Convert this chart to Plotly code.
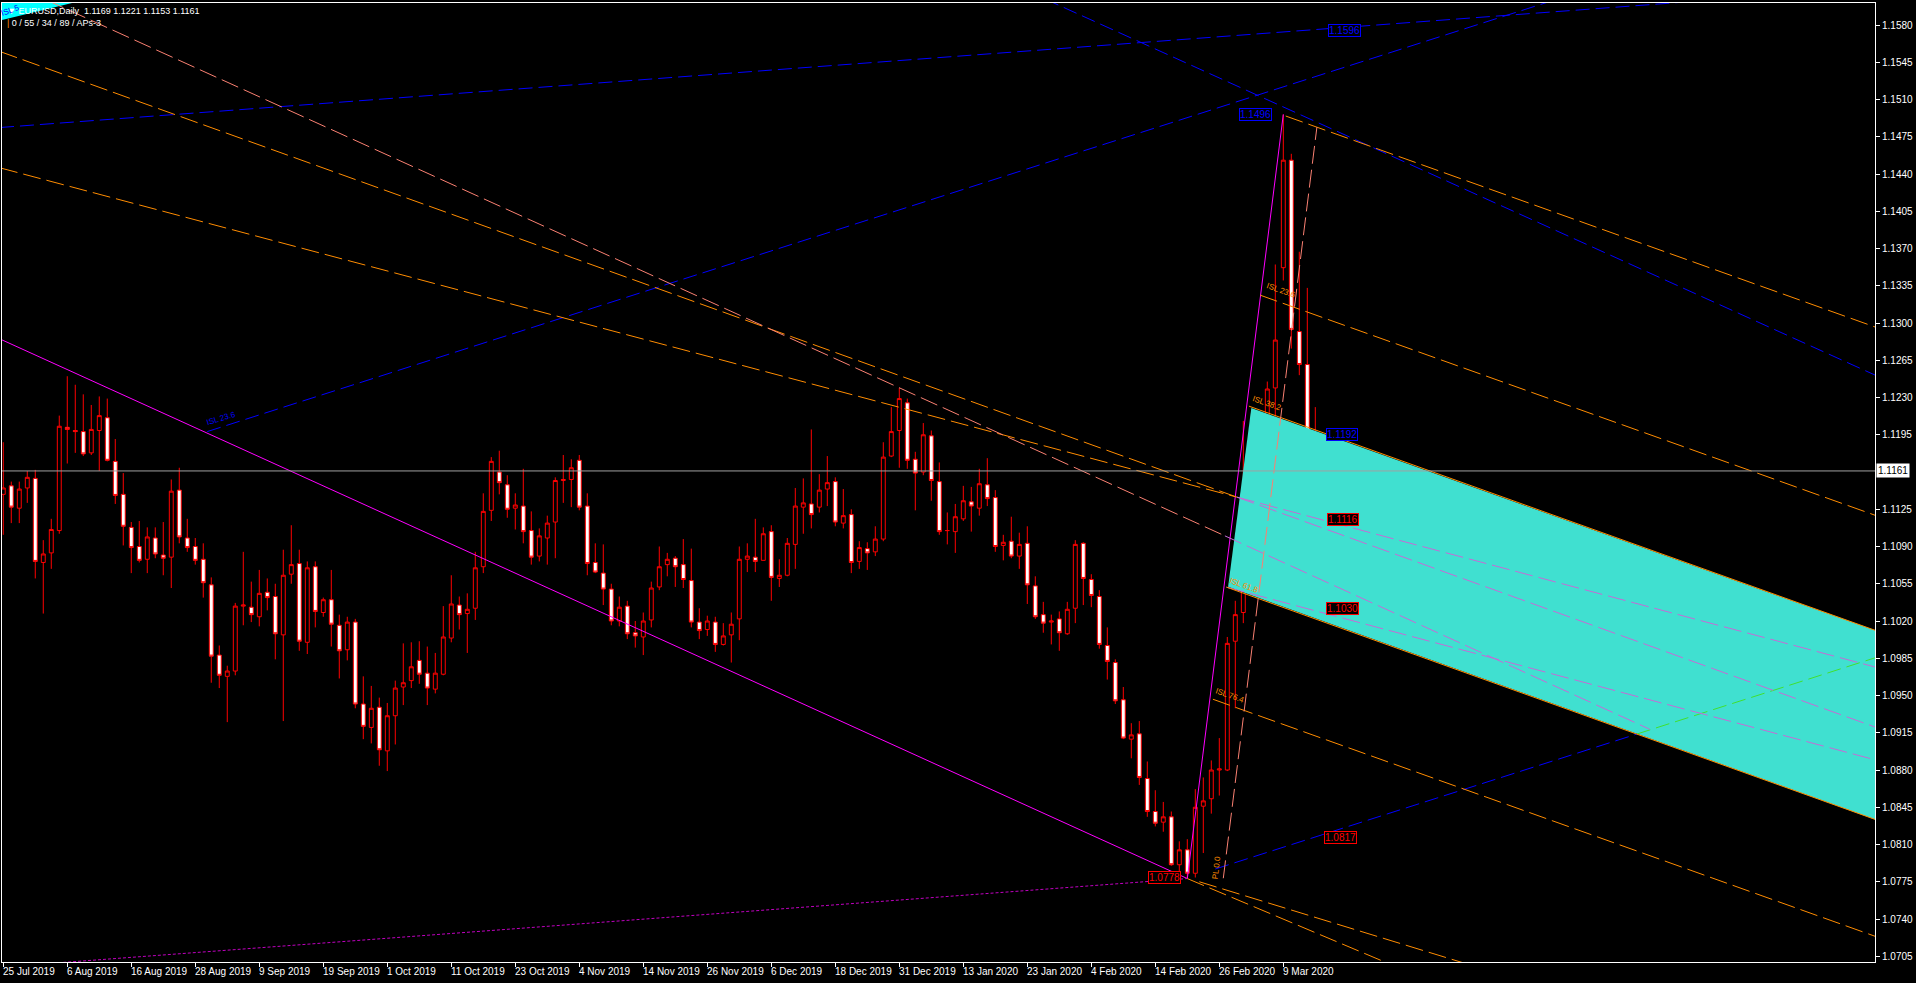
import plotly.graph_objects as go

# ---------------- data ----------------
opens = [1.1139,1.1147,1.1126,1.1145,1.1154,1.1075,1.1084,1.1105,1.1202,1.1199,
 1.1198,1.1178,1.1199,1.1211,1.1170,1.1139,1.1108,1.1090,1.1078,1.1098,
 1.1082,1.1080,1.1143,1.1098,1.1090,1.1078,1.1054,1.0988,1.0968,1.0973,
 1.1034,1.1033,1.1024,1.1047,1.1043,1.1007,1.1064,1.1074,1.1000,1.1071,
 1.1028,1.1040,1.1016,1.0993,1.1019,1.0942,1.0920,1.0939,1.0898,1.0931,
 1.0958,1.0964,1.0983,1.0971,1.0956,1.0970,1.1004,1.1035,1.1027,1.1032,
 1.1071,1.1124,1.1160,1.1148,1.1126,1.1128,1.1105,1.1081,1.1098,1.1113,
 1.1152,1.1153,1.1171,1.1128,1.1075,1.1065,1.1050,1.1020,1.1034,1.1009,
 1.1005,1.1021,1.1052,1.1073,1.1079,1.1073,1.1058,1.1019,1.1012,1.1019,
 1.0998,1.1007,1.1022,1.1078,1.1080,1.1077,1.1104,1.1060,1.1063,1.1092,
 1.1127,1.1130,1.1127,1.1144,1.1151,1.1112,1.1120,1.1076,1.1088,1.1085,
 1.1097,1.1175,1.1199,1.1225,1.1172,1.1160,1.1194,1.1151,1.1105,1.1104,
 1.1116,1.1132,1.1126,1.1148,1.1136,1.1091,1.1095,1.1081,1.1093,1.1053,
 1.1026,1.1019,1.1022,1.1008,1.1032,1.1093,1.1059,1.1043,1.0997,1.0981,
 1.0946,1.0909,1.0914,1.0872,1.0841,1.0831,1.0836,1.0791,1.0805,1.0783,
 1.0846,1.0853,1.0880,1.0880,1.1001,1.1028,1.1132,1.1171,1.1135,1.1239,
 1.1352,1.1453,1.1292,1.1261,1.1169]
highs = [1.1188,1.1151,1.1151,1.1161,1.1162,1.1096,1.1116,1.1213,1.1250,1.1242,
 1.1233,1.1223,1.1231,1.1229,1.1191,1.1159,1.1113,1.1114,1.1108,1.1108,
 1.1113,1.1153,1.1164,1.1116,1.1098,1.1093,1.1061,1.0997,1.0978,1.1037,
 1.1085,1.1057,1.1068,1.1060,1.1055,1.1087,1.1110,1.1087,1.1076,1.1076,
 1.1042,1.1068,1.1026,1.1024,1.1022,1.0968,1.0959,1.0948,1.0943,1.0964,
 1.0999,1.1000,1.1001,1.0996,1.0990,1.1034,1.1063,1.1043,1.1046,1.1085,
 1.1140,1.1174,1.1180,1.1157,1.1140,1.1163,1.1123,1.1107,1.1119,1.1155,
 1.1176,1.1172,1.1176,1.1140,1.1093,1.1092,1.1055,1.1043,1.1039,1.1020,
 1.1028,1.1057,1.1090,1.1084,1.1081,1.1097,1.1088,1.1032,1.1025,1.1024,
 1.1018,1.1028,1.1090,1.1093,1.1116,1.1108,1.1110,1.1078,1.1098,1.1145,
 1.1154,1.1200,1.1158,1.1175,1.1155,1.1144,1.1125,1.1095,1.1094,1.1109,
 1.1188,1.1221,1.1239,1.1229,1.1179,1.1206,1.1199,1.1169,1.1122,1.1130,
 1.1147,1.1146,1.1163,1.1173,1.1143,1.1101,1.1118,1.1103,1.1109,1.1062,
 1.1038,1.1026,1.1029,1.1038,1.1096,1.1094,1.1064,1.1049,1.1014,1.0984,
 1.0958,1.0924,1.0926,1.0888,1.0861,1.0850,1.0841,1.0813,1.0815,1.0862,
 1.0873,1.0889,1.0910,1.1005,1.1039,1.1208,1.1213,1.1188,1.1245,1.1355,
 1.1496,1.1459,1.1367,1.1333,1.1221]
lows = [1.1101,1.1112,1.1112,1.1131,1.1060,1.1027,1.1069,1.1102,1.1168,1.1178,
 1.1175,1.1176,1.1161,1.1170,1.1130,1.1091,1.1065,1.1075,1.1065,1.1079,
 1.1063,1.1051,1.1093,1.1085,1.1073,1.1042,1.0962,1.0957,1.0925,1.0969,
 1.1016,1.1019,1.1015,1.1030,1.0984,1.0926,1.1055,1.0992,1.0989,1.1014,
 1.1024,1.0996,1.0966,1.0983,1.0938,1.0909,1.0905,1.0884,1.0879,1.0904,
 1.0941,1.0957,1.0961,1.0941,1.0952,1.0969,1.1000,1.1012,1.0990,1.1021,
 1.1065,1.1114,1.1139,1.1117,1.1106,1.1093,1.1073,1.1076,1.1073,1.1079,
 1.1131,1.1127,1.1124,1.1063,1.1065,1.1035,1.1016,1.1015,1.1003,1.0995,
 1.0988,1.1014,1.1049,1.1062,1.1052,1.1051,1.1014,1.1003,1.1006,1.0991,
 1.0997,1.0981,1.1002,1.1066,1.1066,1.1077,1.1039,1.1052,1.1062,1.1069,
 1.1102,1.1107,1.1122,1.1128,1.1109,1.1107,1.1065,1.1069,1.1068,1.1081,
 1.1095,1.1174,1.1164,1.1163,1.1124,1.1157,1.1133,1.1101,1.1092,1.1084,
 1.1114,1.1104,1.1119,1.1128,1.1085,1.1077,1.1079,1.1069,1.1036,1.1022,
 1.1009,1.0998,1.0992,1.1007,1.1018,1.1035,1.1033,1.0994,1.0965,1.0942,
 1.0909,1.0891,1.0866,1.0836,1.0827,1.0822,1.0790,1.0785,1.0778,1.0779,
 1.0802,1.0839,1.0856,1.0879,1.0938,1.1018,1.1094,1.1096,1.1120,1.1212,
 1.1340,1.1276,1.1251,1.1054,1.1153]
closes = [1.1145,1.1127,1.1144,1.1155,1.1076,1.1083,1.1106,1.1203,1.1200,1.1198,
 1.1177,1.1200,1.1213,1.1171,1.1138,1.1109,1.1089,1.1077,1.1099,1.1083,
 1.1079,1.1142,1.1099,1.1089,1.1077,1.1056,1.0987,1.0969,1.0973,1.1034,
 1.1035,1.1026,1.1046,1.1042,1.1008,1.1063,1.1073,1.1001,1.1070,1.1029,
 1.1040,1.1017,1.0992,1.1019,1.0942,1.0921,1.0938,1.0899,1.0931,1.0957,
 1.0962,1.0977,1.0970,1.0957,1.0971,1.1005,1.1036,1.1026,1.1031,1.1070,
 1.1123,1.1170,1.1150,1.1125,1.1129,1.1104,1.1080,1.1100,1.1112,1.1152,
 1.1153,1.1164,1.1127,1.1074,1.1066,1.1050,1.1020,1.1033,1.1008,1.1006,
 1.1020,1.1051,1.1071,1.1078,1.1071,1.1059,1.1019,1.1011,1.1020,1.0998,
 1.1006,1.1017,1.1078,1.1081,1.1076,1.1102,1.1061,1.1063,1.1093,1.1128,
 1.1131,1.1120,1.1143,1.1150,1.1113,1.1119,1.1075,1.1089,1.1084,1.1097,
 1.1174,1.1198,1.1229,1.1171,1.1159,1.1195,1.1152,1.1104,1.1105,1.1118,
 1.1133,1.1128,1.1149,1.1135,1.1090,1.1094,1.1081,1.1092,1.1054,1.1024,
 1.1018,1.1020,1.1009,1.1031,1.1092,1.1060,1.1044,1.0998,1.0982,1.0945,
 1.0910,1.0913,1.0873,1.0841,1.0830,1.0836,1.0791,1.0805,1.0783,1.0845,
 1.0851,1.0880,1.0881,1.0999,1.1026,1.1133,1.1170,1.1133,1.1238,1.1284,
 1.1453,1.1294,1.1261,1.1169,1.1161]
bars = list(range(len(opens)))

date_labels = ["25 Jul 2019","6 Aug 2019","16 Aug 2019","28 Aug 2019","9 Sep 2019",
 "19 Sep 2019","1 Oct 2019","11 Oct 2019","23 Oct 2019","4 Nov 2019","14 Nov 2019",
 "26 Nov 2019","6 Dec 2019","18 Dec 2019","31 Dec 2019","13 Jan 2020","23 Jan 2020",
 "4 Feb 2020","14 Feb 2020","26 Feb 2020","9 Mar 2020"]
date_bars = [0,8,16,24,32,40,48,56,64,72,80,88,96,104,112,120,128,136,144,152,160]
price_ticks = [1.0705,1.0740,1.0775,1.0810,1.0845,1.0880,1.0915,1.0950,1.0985,1.1020,
 1.1055,1.1090,1.1125,1.1195,1.1230,1.1265,1.1300,1.1335,1.1370,1.1405,
 1.1440,1.1475,1.1510,1.1545,1.1580]
bid_price = 1.1161
header_line1 = "EURUSD,Daily  1.1169 1.1221 1.1153 1.1161"
header_line2 = "0 / 55 / 34 / 89 / APs-3"
x_range = [-0.16, 233.96]
y_range = [1.06996, 1.16007]

# drawing objects: (bars, prices)
magenta_trend = ([-0.41, 148], [1.1285, 1.0778])
magenta_handle = ([148, 160], [1.0778, 1.1496])
magenta_dotted = ([0, 148], [1.0695, 1.0778])
blue_b1 = ([-0.41, 233.96], [1.14837, 1.16149])
blue_b2 = ([25.5, 233.96], [1.1198, 1.1700])
blue_b3 = ([128, 233.96], [1.1612, 1.12511])
blue_b4 = ([151.5, 204.2], [1.0787, 1.09138])
green_b4 = ([204.2, 233.96], [1.09138, 1.09854])
orange_la = ([-0.41, 154.2], [1.15551, 1.11364])
orange_lb = ([-0.41, 154.2], [1.14458, 1.11364])
pink_la = ([154.2, 233.96], [1.11364, 1.09204])
pink_lb = ([154.2, 233.96], [1.11364, 1.09768])
salmon_lc = ([0, 152.7], [1.1622, 1.1100])
pink_lc = ([152.7, 205.8], [1.1100, 1.09183])
pink_p3 = ([152.9, 233.96], [1.10518, 1.08896])
fork_r1 = ([160.3, 233.96], [1.14945, 1.12963])
fork_r2 = ([157.1, 233.96], [1.13262, 1.11194])
fork_r3 = ([155.7, 233.96], [1.12219, 1.10113])
fork_r4 = ([152.9, 233.96], [1.10518, 1.08336])
fork_r5 = ([151.2, 233.96], [1.09465, 1.07238])
fork_r6 = ([148, 233.96], [1.0778, 1.0505])
fork_r6b = ([149.5, 233.96], [1.0775, 1.0580])
salmon_steep = ([152.5, 164.2], [1.07783, 1.14841])
channel_bars = [156.0, 233.96, 233.96, 153.1]
channel_prices = [1.12201, 1.10113, 1.08336, 1.10521]
corner_bars = [-0.16, 8.6, -0.16]
corner_prices = [1.16007, 1.16007, 1.15847]

# ---------------- figure ----------------
ORANGE = "#FF8C00"
SALMON = "#FA8072"
PINK = "#C46CD6"
BLUE = "#0000FF"
MAG = "#FF00FF"
CYAN = "#40E0D0"
GREEN = "#40E02F"
DASH = "18px,6px"
BDASH = "14px,6px"
FONT = "'Liberation Sans', Arial, sans-serif"

fig = go.Figure()

def poly(xs, ys, color):
    fig.add_trace(go.Scatter(x=xs + [xs[0]], y=ys + [ys[0]], mode="lines", fill="toself",
                             fillcolor=color, line=dict(width=0, color=color),
                             hoverinfo="skip", showlegend=False))

def line(obj, color, dash="solid", width=1):
    fig.add_trace(go.Scatter(x=obj[0], y=obj[1], mode="lines",
                             line=dict(color=color, width=width, dash=dash),
                             hoverinfo="skip", showlegend=False))

poly(channel_bars, channel_prices, CYAN)
poly(corner_bars, corner_prices, "#00FFFF")

fig.add_trace(go.Candlestick(
    x=bars, open=opens, high=highs, low=lows, close=closes,
    increasing=dict(line=dict(color="#FF0000", width=1), fillcolor="#000000"),
    decreasing=dict(line=dict(color="#FF0000", width=1), fillcolor="#FFFFFF"),
    whiskerwidth=0, hoverinfo="skip", showlegend=False))

fig.add_shape(type="line", xref="paper", x0=0, x1=1, yref="y", y0=bid_price, y1=bid_price,
              line=dict(color="#A0A0A0", width=1))

line(magenta_trend, MAG)
line(magenta_handle, MAG)
line(magenta_dotted, "#C000C0", "3px,2px")
line(blue_b1, BLUE, BDASH)
line(blue_b2, BLUE, BDASH)
line(blue_b3, BLUE, BDASH)
line(blue_b4, BLUE, BDASH)
line(green_b4, GREEN, BDASH)
line(orange_la, ORANGE, DASH)
line(orange_lb, ORANGE, DASH)
line(pink_la, PINK, DASH)
line(pink_lb, PINK, DASH)
line(salmon_lc, SALMON, DASH)
line(pink_lc, PINK, DASH)
line(pink_p3, PINK, DASH)
for r in (fork_r1, fork_r2, fork_r5, fork_r6, fork_r6b):
    line(r, ORANGE, DASH)
line(fork_r3, ORANGE, "solid")
line(fork_r4, ORANGE, "solid")
line(salmon_steep, SALMON, DASH)

ann = []
for b, t in zip(date_bars, date_labels):
    ann.append(dict(x=b, xref="x", y=0, yref="paper", text=t, showarrow=False,
                    xanchor="left", yanchor="top", xshift=-2, yshift=-2,
                    font=dict(color="#FFFFFF", size=10, family=FONT)))
for v in price_ticks:
    ann.append(dict(x=1, xref="paper", y=v, yref="y", text=f"{v:.4f}", showarrow=False,
                    xanchor="left", yanchor="middle", xshift=5,
                    font=dict(color="#FFFFFF", size=10, family=FONT)))
ann.append(dict(x=1, xref="paper", y=bid_price, yref="y", text=f"{bid_price:.4f}",
                showarrow=False, xanchor="left", xshift=1, bgcolor="#FFFFFF",
                font=dict(color="#000000", size=10, family=FONT), borderpad=1))
# header (two lines in one text block)
ann.append(dict(x=0.0, xref="paper", y=1.0, yref="paper", xshift=3, yshift=-1,
                text=("▼ " + header_line1 + "<br><span style='color:#FF8C00'>|</span> " + header_line2),
                showarrow=False, align="left", xanchor="left", yanchor="top",
                font=dict(color="#FFFFFF", size=9, family=FONT)))

labels = [
    (27.2, 1.12107, "ISL 23.6", BLUE, -17),
    (159.7, 1.13305, "ISL 23.6", ORANGE, 19.6),
    (158.0, 1.12247, "ISL 38.2", ORANGE, 19.6),
    (155.1, 1.10537, "ISL 61.8", ORANGE, 19.6),
    (153.3, 1.09503, "ISL 76.4", ORANGE, 19.6),
    (151.6, 1.07877, "PL 0.0", ORANGE, -83),
    (0.9, 1.15935, "ISL 5", BLUE, -20),
]
for b, p, t, c, a in labels:
    ann.append(dict(x=b, y=p, xref="x", yref="y", text=t, showarrow=False, textangle=a,
                    font=dict(color=c, size=8, family=FONT)))

boxes = [
    (156.5, 1.14959, "1.1496", BLUE),
    (167.7, 1.15753, "1.1596", BLUE),
    (167.3, 1.11950, "1.1192", BLUE),
    (145.1, 1.07788, "1.0778", "#FF0000"),
    (167.2, 1.08168, "1.0817", "#FF0000"),
    (167.4, 1.11157, "1.1116", "#FF0000"),
    (167.4, 1.10316, "1.1030", "#FF0000"),
]
for b, p, t, c in boxes:
    ann.append(dict(x=b, y=p, xref="x", yref="y", text=t, showarrow=False,
                    bordercolor=c, borderwidth=1, borderpad=0, bgcolor="#000000",
                    font=dict(color=c, size=10, family=FONT)))

fig.update_layout(
    width=1916, height=983,
    margin=dict(l=2, r=41, t=3, b=21),
    paper_bgcolor="#000000", plot_bgcolor="#000000",
    showlegend=False, annotations=ann, hovermode=False,
    xaxis=dict(range=x_range, showgrid=False, zeroline=False, showline=True, mirror=True,
               linecolor="#FFFFFF", linewidth=1, ticks="outside", ticklen=4, tickcolor="#FFFFFF",
               tickvals=date_bars, showticklabels=False, rangeslider=dict(visible=False),
               fixedrange=True),
    yaxis=dict(range=y_range, side="right", showgrid=False, zeroline=False, showline=True,
               mirror=True, linecolor="#FFFFFF", linewidth=1, ticks="outside", ticklen=4,
               tickcolor="#FFFFFF", tickvals=price_ticks, showticklabels=False,
               fixedrange=True),
)

fig.write_html("out.html", config={"displayModeBar": False},
               post_script="document.body.style.margin='0';document.body.style.overflow='hidden';")
